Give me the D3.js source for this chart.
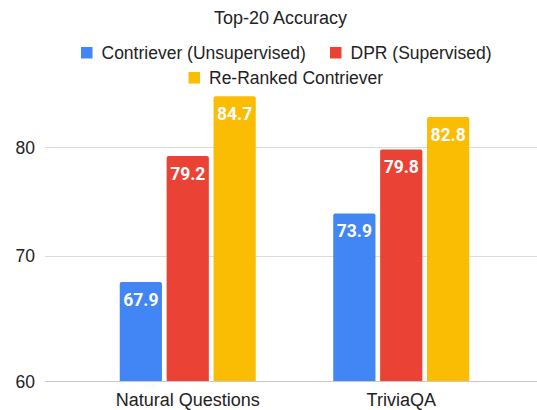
<!DOCTYPE html>
<html>
<head>
<meta charset="utf-8">
<script src="https://cdn.jsdelivr.net/npm/d3@7"></script>
<style>
  body { margin: 0; background: #fff; }
  svg { display: block; }
</style>
</head>
<body>
<div id="chart"></div>
<script>
const width = 537;
const height = 410;

// data
const categories = ["Natural Questions", "TriviaQA"];
const seriesNames = ["Contriever (Unsupervised)", "DPR (Supervised)", "Re-Ranked Contriever"];
const contriever = [67.9, 73.9];
const dpr = [79.2, 79.8];
const reranked = [84.7, 82.8];
const yTicks = [60, 70, 80];

const colors = ["#4285F4", "#EA4335", "#FBBC04"];
const seriesValues = [contriever, dpr, reranked];

const textFont = "Arial, 'Liberation Sans', Helvetica, sans-serif";

const svg = d3.select("#chart")
  .append("svg")
  .attr("width", width)
  .attr("height", height);

// the baseline sits a bit lower than the 10-unit spacing would put it
const y = d3.scaleLinear()
  .domain([60, 70, 80])
  .range([381, 255.7, 147.3]);

const x0 = d3.scaleBand()
  .domain(categories)
  .range([81, 508]);

const x1 = d3.scaleBand()
  .domain(seriesNames)
  .range([0, 136])
  .paddingInner(0.1);

// gridlines
svg.append("g")
  .selectAll("line")
  .data(yTicks)
  .join("line")
  .attr("x1", 45)
  .attr("x2", width)
  .attr("y1", (d) => Math.round(y(d)) + 0.5)
  .attr("y2", (d) => Math.round(y(d)) + 0.5)
  .attr("stroke", (d) => (d === 60 ? "#c8c8c8" : "#dcdcdc"))
  .attr("stroke-width", 1);

// y labels
svg.append("g")
  .selectAll("text")
  .data(yTicks)
  .join("text")
  .attr("x", 35)
  .attr("y", (d) => y(d) + 6.5)
  .attr("text-anchor", "end")
  .attr("font-family", textFont)
  .attr("font-size", "17.5px")
  .attr("fill", "#222")
  .text((d) => d);

// bars
const groups = svg.append("g")
  .selectAll("g")
  .data(categories)
  .join("g")
  .attr("transform", (d) => `translate(${x0(d) + (x0.bandwidth() - 136) / 2},0)`);

const rows = (c, ci) => seriesNames.map((s, si) => ({ s, v: seriesValues[si][ci], i: si }));

groups.selectAll("path")
  .data(rows)
  .join("path")
  .attr("fill", (d) => colors[d.i])
  .attr("d", (d) => {
    const bx = x1(d.s), bw = x1.bandwidth();
    const top = y(d.v), bot = y(60), r = 2;
    return `M${bx},${bot}V${top + r}Q${bx},${top} ${bx + r},${top}H${bx + bw - r}Q${bx + bw},${top} ${bx + bw},${top + r}V${bot}Z`;
  });

groups.selectAll("text")
  .data(rows)
  .join("text")
  .attr("x", (d) => x1(d.s) + x1.bandwidth() / 2)
  .attr("y", (d) => y(d.v) + 24)
  .attr("text-anchor", "middle")
  .attr("font-family", "Roboto, sans-serif")
  .attr("font-weight", "bold")
  .attr("font-size", "17.5px")
  .attr("fill", "#fff")
  .text((d) => d.v.toFixed(1));

// category labels
svg.append("g")
  .selectAll("text")
  .data(categories)
  .join("text")
  .attr("x", (d) => x0(d) + x0.bandwidth() / 2)
  .attr("y", 406)
  .attr("text-anchor", "middle")
  .attr("font-family", textFont)
  .attr("font-size", "18px")
  .attr("fill", "#222")
  .text((d) => d);

// title
svg.append("text")
  .attr("x", 280.5)
  .attr("y", 23.5)
  .attr("text-anchor", "middle")
  .attr("font-family", textFont)
  .attr("font-size", "18px")
  .attr("fill", "#222")
  .text("Top-20 Accuracy");

// legend
const legendPos = [
  { x: 81, y: 47 },
  { x: 330, y: 47 },
  { x: 188.5, y: 72 },
];
const legend = svg.append("g")
  .selectAll("g")
  .data(seriesNames)
  .join("g")
  .attr("transform", (d, i) => `translate(${legendPos[i].x},${legendPos[i].y})`);

legend.append("rect")
  .attr("width", 11.5)
  .attr("height", 11.5)
  .attr("fill", (d, i) => colors[i]);

legend.append("text")
  .attr("x", 20.5)
  .attr("y", 11.5)
  .attr("font-family", textFont)
  .attr("font-size", "17.5px")
  .attr("fill", "#222")
  .text((d) => d);
</script>
</body>
</html>
